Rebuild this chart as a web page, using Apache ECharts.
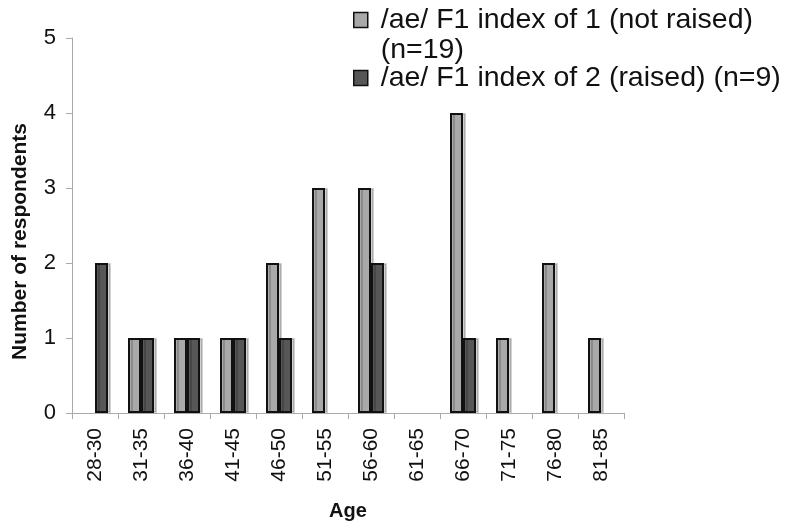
<!DOCTYPE html>
<html>
<head>
<meta charset="utf-8">
<script src="https://cdn.jsdelivr.net/npm/echarts@6/dist/echarts.min.js"></script>
<style>
  html, body { margin: 0; padding: 0; background: #fff; }
  #chart { width: 786px; height: 526px; }
</style>
</head>
<body>
<div id="chart"></div>
<script>
const ageGroups = ['28-30', '31-35', '36-40', '41-45', '46-50', '51-55', '56-60', '61-65', '66-70', '71-75', '76-80', '81-85'];
const notRaised = [0, 1, 1, 1, 2, 3, 3, 0, 4, 1, 2, 1];
const raised = [2, 1, 1, 1, 1, 0, 2, 0, 1, 0, 0, 0];
const yTicks = [0, 1, 2, 3, 4, 5];

const font = '"Liberation Sans", Arial, sans-serif';
const lightGray = '#a9a9a9';
const darkGray = '#575757';

const barStyle = color => ({
    color: color,
    borderColor: '#111',
    borderWidth: 2,
    shadowColor: 'rgba(0,0,0,0.18)',
    shadowOffsetX: 3,
    shadowBlur: 0
});

// zero counts are left empty, no flat bar
const asBars = values => values.map(v => (v === 0 ? '-' : v));

const chart = echarts.init(document.getElementById('chart'));
chart.setOption({
    animation: false,
    backgroundColor: '#fff',
    textStyle: {fontFamily: font},
    grid: {left: 72, right: 162, top: 38, bottom: 112},
    legend: {
        orient: 'vertical',
        left: 353,
        top: -25,
        padding: 0,
        icon: 'rect',
        itemWidth: 14,
        itemHeight: 15,
        itemGap: -2,
        data: [
            {name: 'not', itemStyle: {color: lightGray, borderColor: '#111', borderWidth: 1.5}},
            {name: 'raised', itemStyle: {color: darkGray, borderColor: '#111', borderWidth: 1.5}}
        ],
        // blank first line so the square sits level with the first text line
        formatter: name => name === 'not'
            ? ' \n/ae/ F1 index of 1 (not raised)\n(n=19)'
            : '/ae/ F1 index of 2 (raised) (n=9)',
        textStyle: {fontSize: 28.5, lineHeight: 30, color: '#111', fontFamily: font, padding: [0, 0, 0, 8]}
    },
    xAxis: {
        type: 'category',
        data: ageGroups,
        name: 'Age',
        nameLocation: 'middle',
        nameGap: 88,
        nameTextStyle: {fontSize: 20, fontWeight: 'bold', color: '#111', fontFamily: font},
        axisLine: {lineStyle: {color: '#aaa', width: 1}},
        axisTick: {show: true, length: 6, lineStyle: {color: '#aaa'}},
        axisLabel: {rotate: 90, fontSize: 21, color: '#111', margin: 15, interval: 0}
    },
    yAxis: {
        type: 'value',
        min: yTicks[0],
        max: yTicks[yTicks.length - 1],
        interval: 1,
        name: 'Number of respondents',
        nameLocation: 'middle',
        nameGap: 41,
        nameTextStyle: {fontSize: 21, fontWeight: 'bold', color: '#111', fontFamily: font, padding: [0, 32, 0, 0]},
        axisLine: {show: true, lineStyle: {color: '#aaa', width: 1}},
        axisTick: {show: true, length: 6, lineStyle: {color: '#aaa'}},
        splitLine: {show: false},
        axisLabel: {fontSize: 22, color: '#111', margin: 16}
    },
    series: [
        {name: 'not', type: 'bar', data: asBars(notRaised), barWidth: 13, barGap: '0%', itemStyle: barStyle(lightGray)},
        {name: 'raised', type: 'bar', data: asBars(raised), barWidth: 13, barGap: '0%', itemStyle: barStyle(darkGray)}
    ]
});
</script>
</body>
</html>
